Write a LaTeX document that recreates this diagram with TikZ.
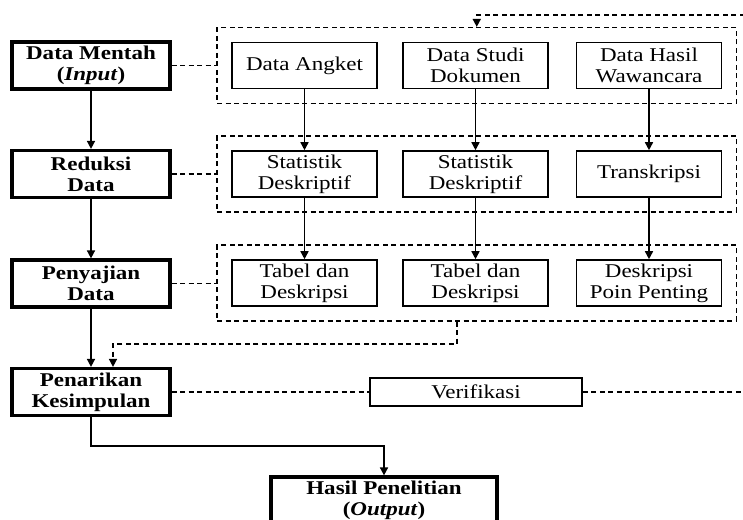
\documentclass[tikz,border=0pt]{standalone}
\usepackage{fontspec}
\setmainfont[FakeStretch=1.18]{Liberation Serif}
\usetikzlibrary{arrows.meta,fit,positioning}

\begin{document}
\begin{tikzpicture}[
        x=1pt, y=-1pt,
        every node/.style={font=\fontsize{19.5}{21}\selectfont, align=center},
        stage/.style={draw, line width=3.2pt, font=\bfseries\fontsize{19.5}{21}\selectfont,
            minimum width=158pt, minimum height=47pt, inner sep=1pt},
        item/.style={draw, line width=1.6pt, minimum width=145pt, minimum height=46pt, inner sep=1pt},
        group/.style={draw, line width=1.6pt, dash pattern=on 5pt off 3.5pt, inner sep=14pt},
        flow/.style={-{Triangle[width=8pt,length=8pt]}, line width=1.6pt},
        link/.style={line width=1.6pt, dash pattern=on 5pt off 3.5pt}
    ]
    \useasboundingbox (0,0) rectangle (743,519);
    % tahapan analisis
    \node[stage] (mentah) at (91,65.5) {Data Mentah\\(\textit{Input})};
    \node[stage] (reduksi) at (91,174) {Reduksi\\Data};
    \node[stage] (sajian) at (91,283.5) {Penyajian\\Data};
    \node[stage] (simpul) at (91,392) {Penarikan\\Kesimpulan};
    \node[stage, minimum width=226pt] (hasil) at (384,500.5) {Hasil Penelitian\\(\textit{Output})};
    % data per sumber
    \node[item] (angket) at (304.5,65.5) {Data Angket};
    \node[item] (studi) at (475.5,65.5) {Data Studi\\Dokumen};
    \node[item] (wawancara) at (649,65.5) {Data Hasil\\Wawancara};
    \node[item] (statA) at (304.5,174) {Statistik\\Deskriptif};
    \node[item] (statB) at (475.5,174) {Statistik\\Deskriptif};
    \node[item] (transkrip) at (649,174) {Transkripsi};
    \node[item] (tabelA) at (304.5,283) {Tabel dan\\Deskripsi};
    \node[item] (tabelB) at (475.5,283) {Tabel dan\\Deskripsi};
    \node[item] (poin) at (649,283) {Deskripsi\\Poin Penting};
    \node[group, fit=(angket)(wawancara)] (grpA) {};
    \node[group, fit=(statA)(transkrip)] (grpB) {};
    \node[group, fit=(tabelA)(poin)] (grpC) {};
    \node[draw, line width=1.6pt, minimum width=212pt, minimum height=28pt, inner sep=1pt] (verif) at (476,392) {Verifikasi};
    \coordinate (drop) at (457,344);
    \coordinate (back) at (760,15);
    \coordinate (turn) at (91,446);
    % alur utama
    \draw[flow] (mentah) -- (reduksi);
    \draw[flow] (reduksi) -- (sajian);
    \draw[flow] (sajian) -- (simpul);
    \draw[flow] (simpul.south) -- (turn) -| (hasil.north);
    \foreach \a/\b in {angket/statA, statA/tabelA, studi/statB, statB/tabelB, wawancara/transkrip, transkrip/poin}
        \draw[flow] (\a) -- (\b);
    % garis putus-putus
    \draw[link] (mentah) -- (grpA);
    \draw[link] (reduksi) -- (grpB);
    \draw[link] (sajian.east) -- (sajian.east -| grpC.west);
    \draw[link, -{Triangle[width=8pt,length=8pt]}] (grpC.south -| drop) -- (drop) -| ([xshift=22pt]simpul.north);
    \draw[link] (simpul) -- (verif);
    \draw[link, -{Triangle[width=8pt,length=8pt]}] (verif.east) -| (back) -| (grpA.north);
\end{tikzpicture}
\end{document}
